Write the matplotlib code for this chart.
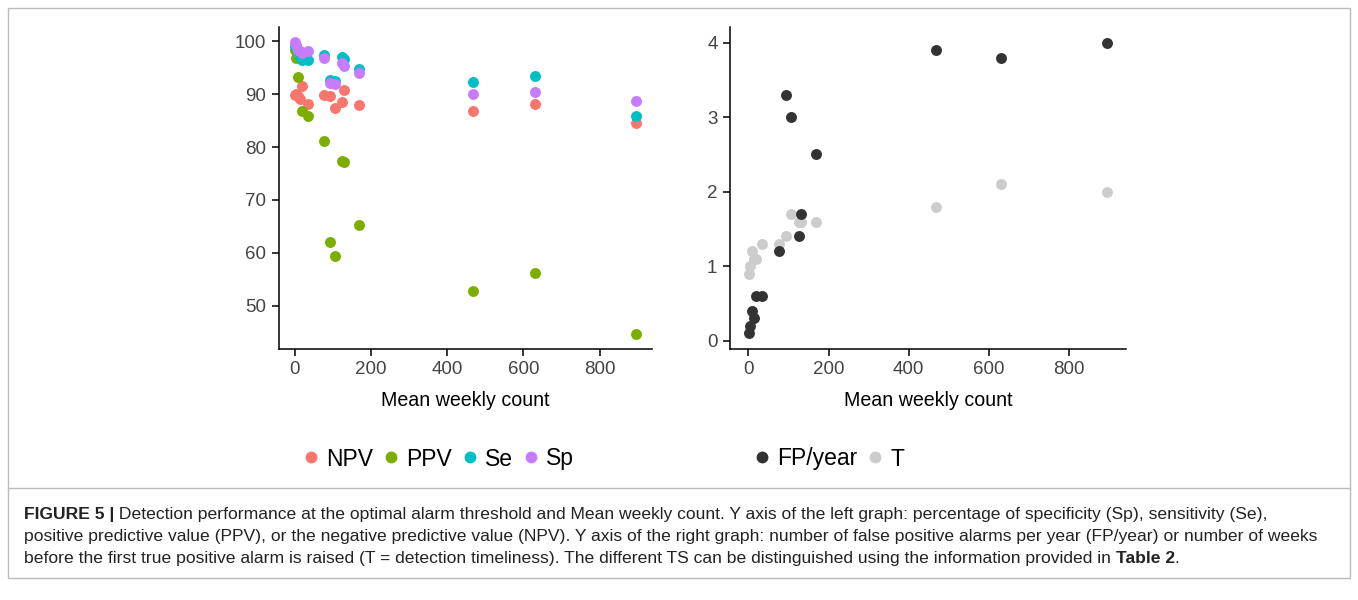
import matplotlib.pyplot as plt
from matplotlib.lines import Line2D
from matplotlib.patches import Rectangle

plt.rcParams['font.family'] = ['Liberation Sans', 'DejaVu Sans']

# one entry per time series
weekly_count = [2, 4, 8, 15, 18, 34, 76, 94, 105, 125, 130, 169, 467, 631, 894]

# left graph (%)
npv = [89.9, 90.0, 89.6, 89.0, 91.6, 88.2, 89.9, 89.6, 87.4, 88.6, 90.7, 88.0, 86.9, 88.2, 84.6]
ppv = [98.4, 96.8, 93.3, 97.5, 86.9, 85.8, 81.2, 62.0, 59.4, 77.4, 77.2, 65.3, 52.8, 56.2, 44.7]
se = [99.2, 98.9, 98.0, 97.0, 96.5, 96.4, 97.4, 92.7, 92.5, 97.1, 96.6, 94.7, 92.3, 93.5, 85.9]
sp = [99.9, 99.3, 98.4, 98.2, 97.8, 98.1, 96.8, 92.2, 92.0, 95.9, 95.4, 94.0, 90.1, 90.4, 88.75]

# right graph
fp_year = [0.1, 0.2, 0.4, 0.3, 0.6, 0.6, 1.2, 3.3, 3.0, 1.4, 1.7, 2.5, 3.9, 3.8, 4.0]
timeliness = [0.9, 1.0, 1.2, 1.1, 1.1, 1.3, 1.3, 1.4, 1.7, 1.6, 1.6, 1.6, 1.8, 2.1, 2.0]

left_names = ['NPV', 'PPV', 'Se', 'Sp']
left_colors = ['#F8766D', '#7CAE00', '#00BFC4', '#C77CFF']
right_names = ['FP/year', 'T']
right_colors = ['#333333', '#CCCCCC']

W, H = 1358, 600
fig = plt.figure(figsize=(W / 100, H / 100), dpi=100)


def px_axes(l, t, r, b):
    return fig.add_axes([l / W, 1 - b / H, (r - l) / W, (b - t) / H])


def style(ax):
    for s in ['top', 'right']:
        ax.spines[s].set_visible(False)
    for s in ['left', 'bottom']:
        ax.spines[s].set_linewidth(1.1)
    ax.tick_params(length=5, width=1.1, labelsize=13.5, labelcolor='#444444', pad=4)
    ax.set_xlabel('Mean weekly count', fontsize=14.1, labelpad=9)
    ax.set_xticks([0, 200, 400, 600, 800])


ms = 62

ax1 = px_axes(279, 27, 652, 349)
for vals, c in zip([npv, ppv, se, sp], left_colors):
    ax1.scatter(weekly_count, vals, s=ms, color=c, linewidths=0, zorder=3)
ax1.set_xlim(-41, 937)
ax1.set_ylim(41.8, 102.7)
ax1.set_yticks([50, 60, 70, 80, 90, 100])
style(ax1)

ax2 = px_axes(730, 27, 1126, 349)
ax2.scatter(weekly_count, timeliness, s=ms, color=right_colors[1], linewidths=0, zorder=3)
ax2.scatter(weekly_count, fp_year, s=ms, color=right_colors[0], linewidths=0, zorder=4)
ax2.set_xlim(-46, 942)
ax2.set_ylim(-0.11, 4.21)
ax2.set_yticks([0, 1, 2, 3, 4])
style(ax2)


def handles(names, colors):
    return [Line2D([], [], ls='', marker='o', ms=7.5, color=c, label=n)
            for n, c in zip(names, colors)]


leg_kw = dict(loc='center left', frameon=False, fontsize=16.5, handlelength=0.6,
              handletextpad=0.35, columnspacing=0.5, borderpad=0, borderaxespad=0)
fig.legend(handles=handles(left_names, left_colors), ncol=4,
           bbox_to_anchor=(304 / W, 1 - 459 / H), **leg_kw)
fig.legend(handles=handles(right_names, right_colors), ncol=2,
           bbox_to_anchor=(755 / W, 1 - 459 / H), **leg_kw)

# frame and caption
fig.patches.append(Rectangle((8 / W, 1 - 578 / H), (1350 - 8) / W, (578 - 8) / H,
                             transform=fig.transFigure, fill=False, ec='#BBBBBB', lw=1))
fig.add_artist(Line2D([8 / W, 1350 / W], [1 - 488 / H, 1 - 488 / H],
                      transform=fig.transFigure, color='#BBBBBB', lw=1))

caption = [
    [('FIGURE 5 |', 'bold'), (' Detection performance at the optimal alarm threshold and Mean weekly count. '
                              'Y axis of the left graph: percentage of specificity (Sp), sensitivity (Se),', 'normal')],
    [('positive predictive value (PPV), or the negative predictive value (NPV). Y axis of the right graph: '
      'number of false positive alarms per year (FP/year) or number of weeks', 'normal')],
    [('before the first true positive alarm is raised (T = detection timeliness). The different TS can be '
      'distinguished using the information provided in ', 'normal'), ('Table 2', 'bold'), ('.', 'normal')],
]
renderer = fig.canvas.get_renderer()
for i, parts in enumerate(caption):
    x = 24
    y = 519 + i * 22
    for txt, weight in parts:
        t = fig.text(x / W, 1 - y / H, txt, fontsize=12.6, fontweight=weight,
                     va='baseline', ha='left', color='#222222')
        x += t.get_window_extent(renderer).width

fig.savefig('out.png', dpi=100)
